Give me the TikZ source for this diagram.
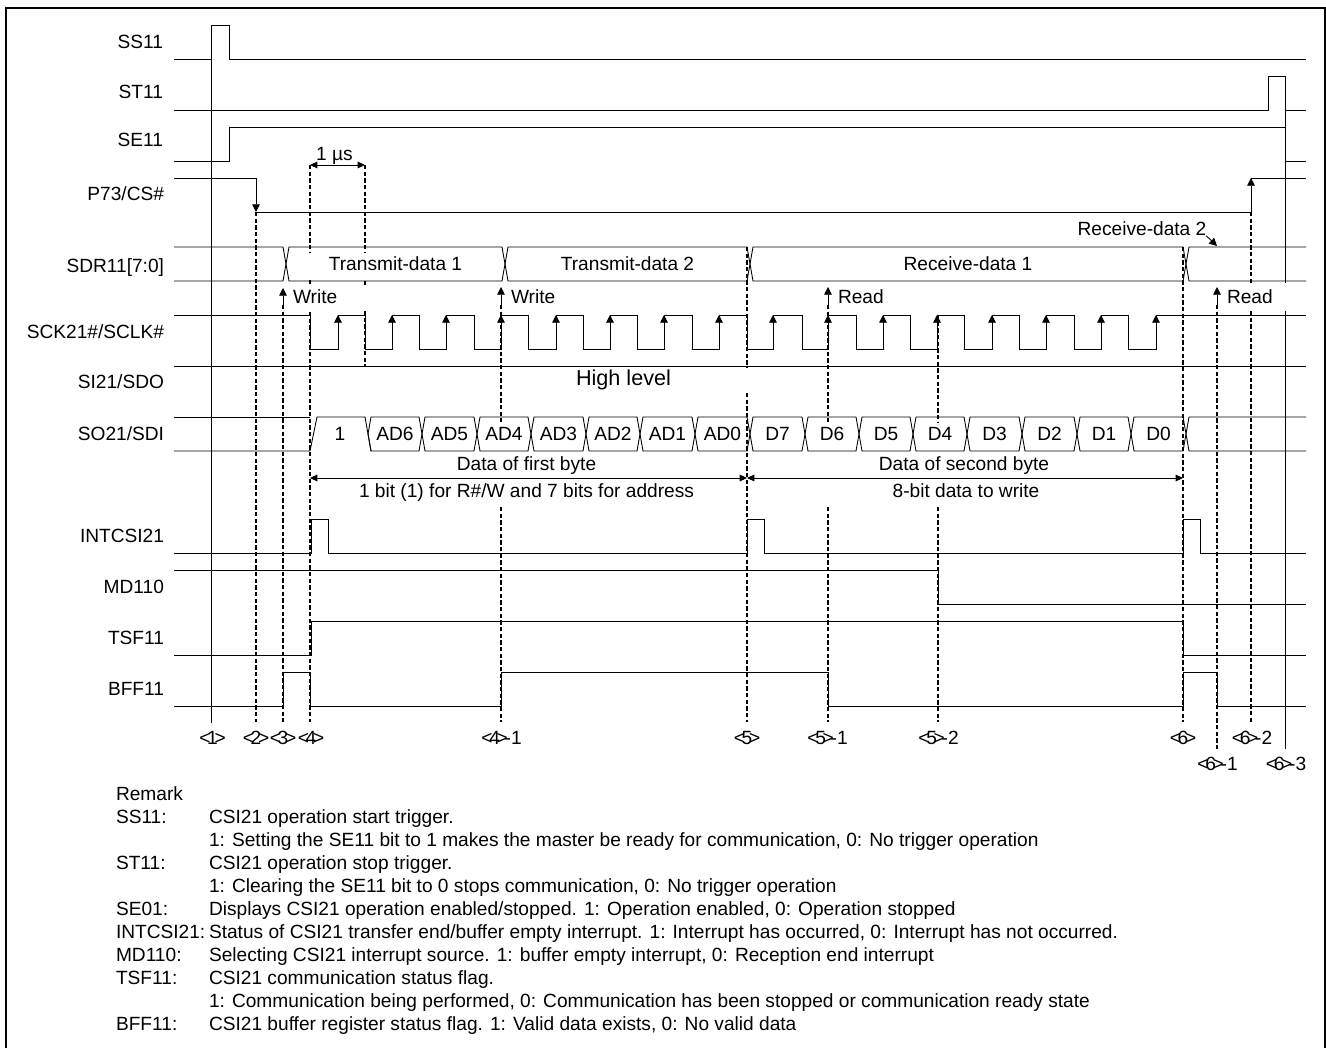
\documentclass[tikz,border=0pt]{standalone}
\usepackage{fontspec}
\setmainfont{Liberation Sans}
\usetikzlibrary{positioning}
\usetikzlibrary{arrows.meta}
\newcommand{\labfont}{\fontsize{14.35}{16}\selectfont}
\newcommand{\stepmark}[1]{<\kern-.17em #1\kern-.17em>}
\newcommand{\buscell}[5]{%
   \draw[sig] (#2+3,#4+17) -- (#2+6,#4) -- (#3,#4) -- (#3+3,#4+17)
      -- (#3,#4+34) -- (#2+6,#4+34) -- cycle;
   \node (#1) at ({(#2+#3+6)/2},#4+17) {#5};
}
\begin{document}
\begin{tikzpicture}[
         x=0.75pt, y=-0.75pt,
         every node/.style = {font=\labfont, inner sep=0pt, outer sep=0pt, text height=10.3pt, text depth=0pt},
         sig/.style = {line width=0.65pt},
         guide/.style = {line width=0.8pt, dash pattern=on 3.2pt off 1.8pt},
         rise/.style = {line width=0.65pt, -{Triangle[length=5.8pt,width=5.8pt]}},
         dim/.style = {line width=0.65pt, {Triangle[length=5.5pt,width=5pt]}-{Triangle[length=5.5pt,width=5pt]}},
         signame/.style = {anchor=east},
         remark/.style = {anchor=west},
         under/.style = {below=6.95pt of #1.south west, anchor=north west}
]
      \useasboundingbox (0,0) rectangle (1326,1048);

      % frame, open at the bottom
      \draw[line width=2pt] (6,1048) -- (6,8) -- (1325.5,8) -- (1325.5,1048);

      % signal names
      \node[signame] (ss11)  at (163,42)  {SS11};
      \node[signame] (st11)  at (163,92)  {ST11};
      \node[signame] (se11)  at (163,140) {SE11};
      \node[signame] (p73)   at (164,194) {P73/CS\#};
      \node[signame] (sdr11) at (164,266) {SDR11[7:0]};
      \node[signame] (sck21) at (164,332) {SCK21\#/SCLK\#};
      \node[signame] (si21)  at (164,382) {SI21/SDO};
      \node[signame] (so21)  at (164,434) {SO21/SDI};
      \node[signame] (int21) at (164,536) {INTCSI21};
      \node[signame] (md110) at (164,587) {MD110};
      \node[signame] (tsf11) at (164,638) {TSF11};
      \node[signame] (bff11) at (164,689) {BFF11};

      % solid timing marks
      \draw[sig] (211,59)   -- (211,723);
      \draw[sig] (1285,110) -- (1285,283);
      \draw[sig] (1285,311) -- (1285,749);

      % dashed timing marks
      \draw[guide] (256,212) -- (256,722);
      \draw[guide] (283,305) -- (283,722);
      \draw[guide] (310,165) -- (310,252);
      \draw[guide] (310,280) -- (310,286);
      \draw[guide] (310,312) -- (310,722);
      \draw[guide] (365,165) -- (365,252);
      \draw[guide] (365,281) -- (365,286);
      \draw[guide] (365,311) -- (365,366);
      \draw[guide] (501,305) -- (501,422);
      \draw[guide] (501,507) -- (501,722);
      \draw[guide] (747,247) -- (747,368);
      \draw[guide] (747,393) -- (747,722);
      \draw[guide] (828,305) -- (828,422);
      \draw[guide] (828,507) -- (828,722);
      \draw[guide] (938,315) -- (938,422);
      \draw[guide] (938,507) -- (938,722);
      \draw[guide] (1183,247) -- (1183,722);
      \draw[guide] (1217,305) -- (1217,749);
      \draw[guide] (1251,212) -- (1251,283);
      \draw[guide] (1251,311) -- (1251,722);

      % start, stop and enable
      \draw[sig] (174,59)  -| (211,25)  -| (229,59)  -- (1306,59);
      \draw[sig] (174,110) -| (1268,76) -| (1285,110) -- (1306,110);
      \draw[sig] (174,161) -| (229,127) -| (1285,161) -- (1306,161);

      % chip select
      \draw[sig] (174,178) -- (256,178);
      \draw[rise] (256,178) -- (256,212);
      \draw[sig] (256,212) -- (1251,212);
      \draw[rise] (1251,212) -- (1251,178);
      \draw[sig] (1251,178) -- (1306,178);

      \draw[dim] (310,165) -- (365,165);
      \node (onemu) at (334.5,154) {1 µs};

      % shift register
      \draw[sig] (174,247) -- (283,247) -- (286,264) -- (283,281) -- (174,281);
      \buscell{tx1}{283}{502}{247}{Transmit-data 1}
      \buscell{tx2}{502}{747}{247}{Transmit-data 2}
      \buscell{rx1}{747}{1183}{247}{Receive-data 1}
      \draw[sig] (1306,247) -- (1189,247) -- (1186,264) -- (1189,281) -- (1306,281);

      \node (rx2) at (1142,229) {Receive-data 2};
      \coordinate (rx2tip) at (1217,246);
      \draw[rise] (rx2.south east) -- (rx2tip);

      % write and read strobes
      \draw[rise] (283,305) -- (283,288);
      \draw[rise] (501,305) -- (501,287);
      \draw[rise] (828,305) -- (828,287);
      \draw[rise] (1217,305) -- (1217,287);
      \node[anchor=west] (wr1) at (293,297)  {Write};
      \node[anchor=west] (wr2) at (511,297)  {Write};
      \node[anchor=west] (rd1) at (838,297)  {Read};
      \node[anchor=west] (rd2) at (1227,297) {Read};

      % serial clock
      \draw[sig] (174,315) -| (310,349) -| (338,315) -| (365,349) -| (392,315)
         -| (419,349) -| (446,315) -| (474,349) -| (501,315) -| (528,349)
         -| (556,315) -| (583,349) -| (610,315) -| (637,349) -| (664,315)
         -| (692,349) -| (719,315) -| (747,349) -| (773,315) -| (802,349)
         -| (828,315) -| (856,349) -| (883,315) -| (910,349) -| (937,315)
         -| (964,349) -| (992,315) -| (1019,349) -| (1046,315) -| (1074,349)
         -| (1101,315) -| (1128,349) -| (1156,315) -- (1306,315);
      \draw[rise] (338,349) edge (338,315) (392,349) edge (392,315)
         (446,349) edge (446,315) (501,349) edge (501,315)
         (556,349) edge (556,315) (610,349) edge (610,315)
         (664,349) edge (664,315) (719,349) edge (719,315)
         (773,349) edge (773,315) (828,349) edge (828,315)
         (883,349) edge (883,315) (937,349) edge (937,315)
         (992,349) edge (992,315) (1046,349) edge (1046,315)
         (1101,349) edge (1101,315) (1156,349) -- (1156,315);

      \draw[sig] (174,366) -- (1306,366);
      \node[font=\fontsize{16.2}{18}\selectfont] (hilvl) at (623.5,379) {High level};

      % serial data
      \draw[sig] (174,417) -- (310,417);
      \draw[sig] (174,451) -- (310,451) -- (317,417) -- (365,417) -- (371,451);
      \node (bit1) at (340,434) {1};
      \buscell{ad6}{365}{419}{417}{AD6}
      \buscell{ad5}{419}{474}{417}{AD5}
      \buscell{ad4}{474}{528}{417}{AD4}
      \buscell{ad3}{528}{583}{417}{AD3}
      \buscell{ad2}{583}{637}{417}{AD2}
      \buscell{ad1}{637}{692}{417}{AD1}
      \buscell{ad0}{692}{747}{417}{AD0}
      \buscell{d7}{747}{802}{417}{D7}
      \buscell{d6}{802}{856}{417}{D6}
      \buscell{d5}{856}{910}{417}{D5}
      \buscell{d4}{910}{964}{417}{D4}
      \buscell{d3}{964}{1019}{417}{D3}
      \buscell{d2}{1019}{1074}{417}{D2}
      \buscell{d1}{1074}{1128}{417}{D1}
      \buscell{d0}{1128}{1183}{417}{D0}
      \draw[sig] (1306,417) -- (1189,417) -- (1186,434) -- (1189,451) -- (1306,451);

      \node (first)  at (526.5,464) {Data of first byte};
      \node (second) at (964,464) {Data of second byte};
      \draw[dim] (310,478) -- (747,478);
      \draw[dim] (747,478) -- (1183,478);
      \node (rwbit) at (526.5,491) {1 bit (1) for R\#/W and 7 bits for address};
      \node (dbits) at (966,491) {8-bit data to write};

      % flags
      \draw[sig] (174,553) -| (311,519) -| (328,553) -| (747,519) -| (764,553)
         -| (1183,519) -| (1200,553) -- (1306,553);
      \draw[sig] (174,570) -| (938,604) -- (1306,604);
      \draw[sig] (174,655) -| (311,621) -| (1183,655) -- (1306,655);
      \draw[sig] (174,706) -| (283,672) -| (310,706) -| (501,672) -| (828,706)
         -| (1183,672) -| (1217,706) -- (1306,706);

      % step marks
      \node (step1)  at (212.5,738) {\stepmark{1}};
      \node (step2)  at (256,738)   {\stepmark{2}};
      \node (step3)  at (283,738)   {\stepmark{3}};
      \node (step4)  at (311,738)   {\stepmark{4}};
      \node (step41) at (501.5,738) {\stepmark{4}\kern-.17em-1};
      \node (step5)  at (747,738)   {\stepmark{5}};
      \node (step51) at (827.5,738) {\stepmark{5}\kern-.17em-1};
      \node (step52) at (938.5,738) {\stepmark{5}\kern-.17em-2};
      \node (step6)  at (1183,738)  {\stepmark{6}};
      \node (step61) at (1217.5,764) {\stepmark{6}\kern-.17em-1};
      \node (step62) at (1252,738)  {\stepmark{6}\kern-.17em-2};
      \node (step63) at (1286,764)  {\stepmark{6}\kern-.17em-3};

      % remark names
      \node[remark] (rem)   at (116,794)  {Remark};
      \node[remark] (tss)   at (116,817)  {SS11:};
      \node[remark] (tst)   at (116,863)  {ST11:};
      \node[remark] (tse)   at (116,909)  {SE01:};
      \node[remark] (tint)  at (116,932)  {INTCSI21:};
      \node[remark] (tmd)   at (116,955)  {MD110:};
      \node[remark] (ttsf)  at (116,978)  {TSF11:};
      \node[remark] (tbff)  at (116,1024) {BFF11:};

      % remark lines
      \node[remark] (l1) at (209,817) {CSI21 operation start trigger.};
      \node[under=l1] (l2) {1: Setting the SE11 bit to 1 makes the master be ready for communication, 0: No trigger operation};
      \node[under=l2] (l3) {CSI21 operation stop trigger.};
      \node[under=l3] (l4) {1: Clearing the SE11 bit to 0 stops communication, 0: No trigger operation};
      \node[under=l4] (l5) {Displays CSI21 operation enabled/stopped. 1: Operation enabled, 0: Operation stopped};
      \node[under=l5] (l6) {Status of CSI21 transfer end/buffer empty interrupt. 1: Interrupt has occurred, 0: Interrupt has not occurred.};
      \node[under=l6] (l7) {Selecting CSI21 interrupt source. 1: buffer empty interrupt, 0: Reception end interrupt};
      \node[under=l7] (l8) {CSI21 communication status flag.};
      \node[under=l8] (l9) {1: Communication being performed, 0: Communication has been stopped or communication ready state};
      \node[under=l9] (l10) {CSI21 buffer register status flag. 1: Valid data exists, 0: No valid data};
\end{tikzpicture}
\end{document}
